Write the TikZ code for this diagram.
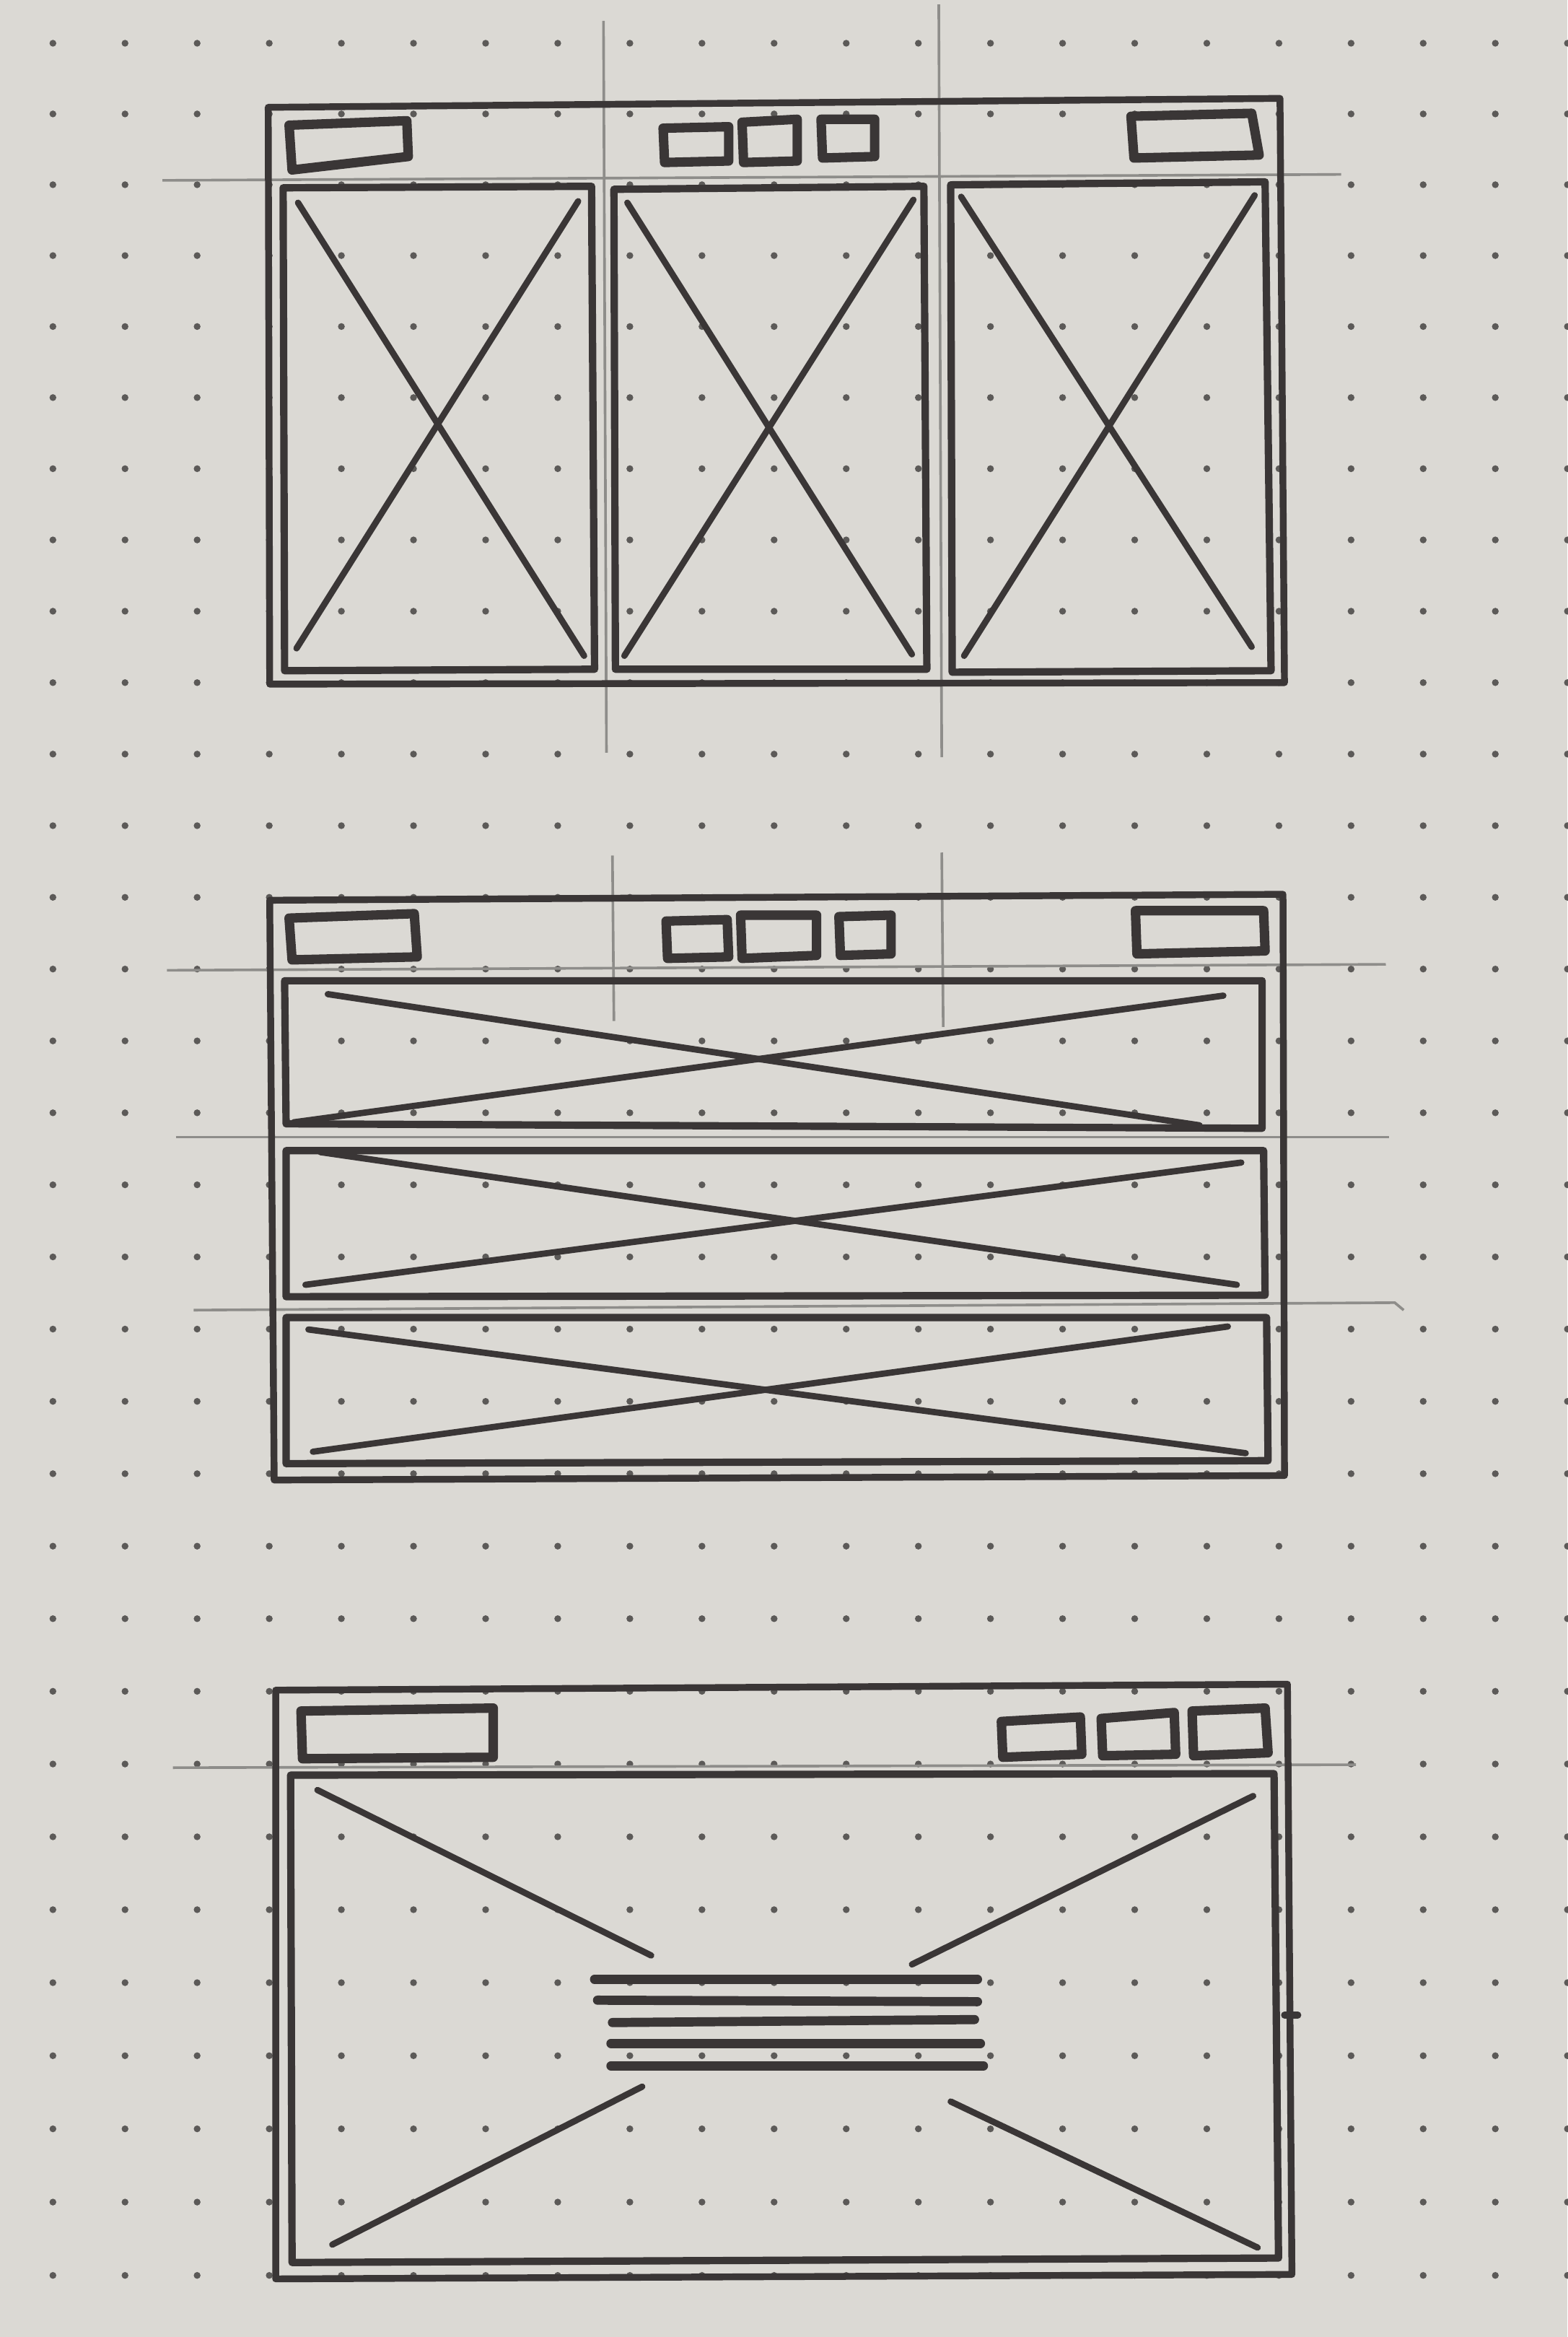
\documentclass[tikz,border=0pt]{standalone}
\usepackage{tikz}
\usetikzlibrary{calc}
\definecolor{WFPaper}{HTML}{DBD9D4}
\definecolor{WFInk}{HTML}{3A3636}
\definecolor{WFPencil}{HTML}{8E8D8A}
\definecolor{WFDot}{HTML}{5C5A58}
\tikzset{
wfframe/.style={draw=WFInk, line width=1.3pt, line join=round, line cap=round},
wfpanel/.style={draw=WFInk, line width=1.4pt, line join=round, line cap=round},
wfbutton/.style={draw=WFInk, line width=1.8pt, line join=round, line cap=round},
wfcross/.style={draw=WFInk, line width=1.2pt, line cap=round},
wftext/.style={draw=WFInk, line width=1.75pt, line cap=round},
wfguide/.style={draw=WFPencil, line width=0.5pt},
wfdot/.style={fill=WFDot}
}
\begin{document}
\begin{tikzpicture}[x=0.01cm, y=-0.01cm]
\fill[WFPaper] (0,0) rectangle (1052,1568);
\useasboundingbox (0,0) rectangle (1052,1568);
\foreach \i in {0,...,21}
\foreach \j in {0,...,31}
\fill[wfdot] ({35.5+48.4*\i},{29+47.4*\j+0.0294*\j*\j}) circle (0.65pt);

\draw[wfguide] (109,121) -- (900,117);
\draw[wfguide] (405,14) -- (407,505);
\draw[wfguide] (630,3) -- (632,508);
\draw[wfframe] (180,72) -- (859,66) -- (862,458) -- (181,459) -- cycle;
\draw[wfbutton] (194,84) -- (273,81) -- (274,105) -- (196,114) -- cycle;
\draw[wfbutton] (445,86) -- (489,85) -- (489,108) -- (446,109) -- cycle;
\draw[wfbutton] (498,82) -- (535,80) -- (535,108) -- (499,109) -- cycle;
\draw[wfbutton] (551,80) -- (587,80) -- (587,105) -- (552,106) -- cycle;
\draw[wfbutton] (759,78) -- (840,76) -- (845,104) -- (761,106) -- cycle;
\draw[wfpanel] (190,126) -- (397,125) -- (399,449) -- (191,450) -- cycle;
\draw[wfpanel] (412,127) -- (620,125) -- (622,449) -- (413,449) -- cycle;
\draw[wfpanel] (638,124) -- (849,122) -- (853,450) -- (639,451) -- cycle;
\foreach \xa/\ya/\xb/\yb in {200/136/392/440, 388/135/199/435,
  421/136/612/439, 613/134/419/440, 645/132/840/434, 842/131/647/440}
\draw[wfcross] (\xa,\ya) -- (\xb,\yb);

\draw[wfguide] (112,651) -- (930,647);
\draw[wfguide] (118,763) -- (932,763);
\draw[wfguide] (130,879) -- (936,874) -- (942,879);
\draw[wfguide] (411,574) -- (412,685);
\draw[wfguide] (632,572) -- (633,689);
\draw[wfframe] (181,604) -- (861,600) -- (862,990) -- (184,993) -- cycle;
\draw[wfbutton] (194,616) -- (278,613) -- (280,642) -- (196,644) -- cycle;
\draw[wfbutton] (447,618) -- (488,617) -- (489,642) -- (448,643) -- cycle;
\draw[wfbutton] (497,614) -- (548,614) -- (548,641) -- (498,643) -- cycle;
\draw[wfbutton] (563,615) -- (598,614) -- (598,640) -- (564,641) -- cycle;
\draw[wfbutton] (762,611) -- (848,611) -- (849,638) -- (763,640) -- cycle;
\draw[wfpanel] (191,658) -- (847,658) -- (847,757) -- (192,754) -- cycle;
\draw[wfpanel] (192,772) -- (848,772) -- (849,869) -- (192,870) -- cycle;
\draw[wfpanel] (192,884) -- (850,884) -- (851,980) -- (192,982) -- cycle;
\foreach \xa/\ya/\xb/\yb in {220/667/805/755, 821/668/197/753,
  215/773/830/862, 833/780/205/862, 207/892/836/975, 824/890/210/974}
\draw[wfcross] (\xa,\ya) -- (\xb,\yb);

\draw[wfguide] (116,1186) -- (910,1184);
\draw[wfframe] (185,1134) -- (864,1130) -- (867,1526) -- (185,1529) -- cycle;
\draw[wfframe] (862,1352) -- (871,1352);
\draw[wfbutton] (202,1148) -- (331,1146) -- (331,1179) -- (203,1180) -- cycle;
\draw[wfbutton] (672,1155) -- (725,1152) -- (726,1177) -- (673,1179) -- cycle;
\draw[wfbutton] (739,1153) -- (788,1149) -- (789,1177) -- (740,1178) -- cycle;
\draw[wfbutton] (800,1148) -- (849,1146) -- (851,1176) -- (801,1178) -- cycle;
\draw[wfpanel] (195,1191) -- (855,1190) -- (858,1515) -- (196,1518) -- cycle;
\foreach \xa/\ya/\xb/\yb in {213/1201/437/1312, 841/1205/612/1318,
  431/1400/223/1506, 638/1410/844/1508}
\draw[wfcross] (\xa,\ya) -- (\xb,\yb);
\foreach \xa/\ya/\xb/\yb in {399/1328/656/1328, 401/1342/656/1343,
  411/1357/654/1355, 410/1371/658/1371, 410/1386/660/1386}
\draw[wftext] (\xa,\ya) -- (\xb,\yb);
\end{tikzpicture}
\end{document}
